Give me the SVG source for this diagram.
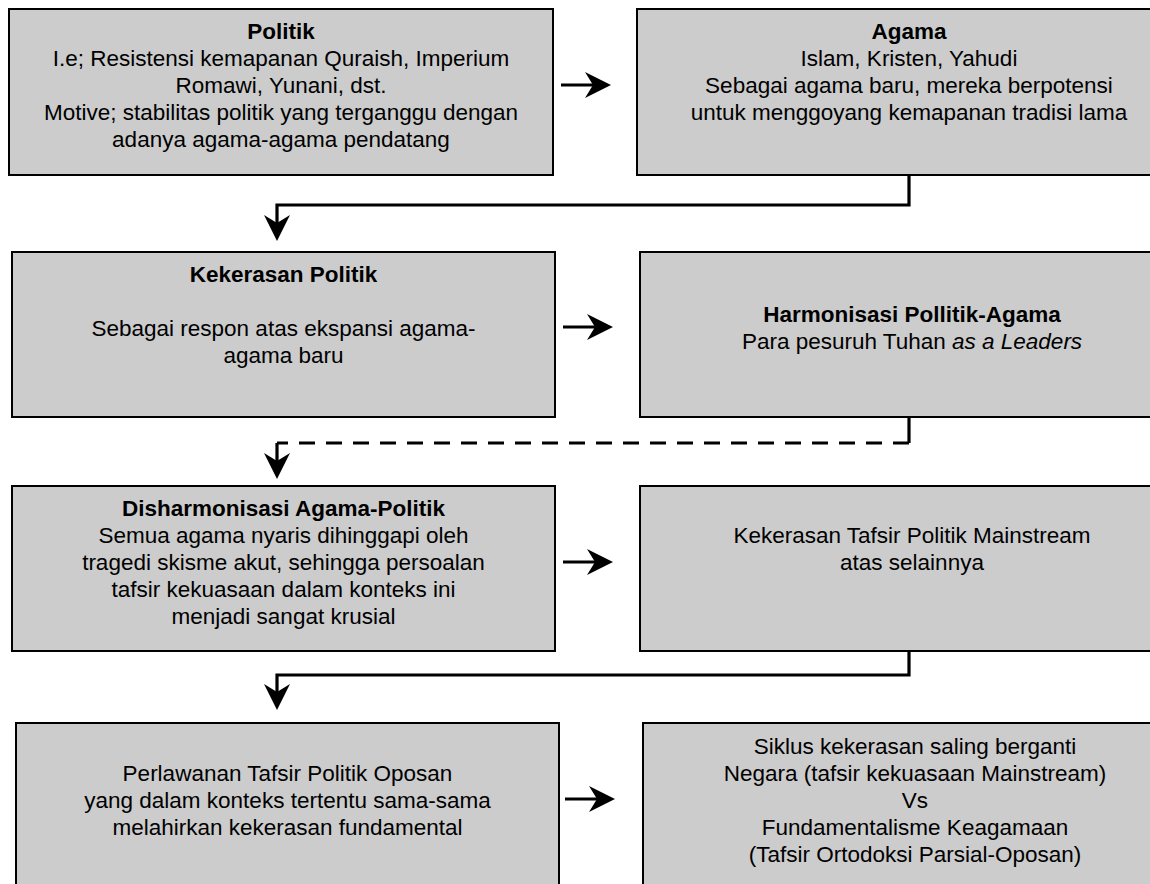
<svg xmlns="http://www.w3.org/2000/svg" width="1150" height="884" viewBox="0 0 1150 884">
<style>
.box{fill:#cccccc;stroke:#000;stroke-width:2}
.t{font-family:"Liberation Sans",Arial,sans-serif;font-size:22.5px;fill:#000;text-anchor:middle}
.b{font-weight:bold}
.i{font-style:italic}
.con{fill:none;stroke:#000;stroke-width:3.2}
.dash{stroke-dasharray:16 11}
</style>
<defs>
<marker id="ah" viewBox="-12 -14 28 28" refX="0" refY="0" markerWidth="28" markerHeight="28" markerUnits="userSpaceOnUse" orient="auto">
<path d="M15,0 L-11,-13 L-3,0 L-11,13 Z" fill="#000"/>
</marker>
</defs>
<rect width="1150" height="884" fill="#fff"/>
<g id="n-politik">
<rect class="box" x="9" y="9" width="544" height="166"/>
<text class="t b" x="281" y="39">Politik</text>
<text class="t" x="281" y="66">I.e; Resistensi kemapanan Quraish, Imperium</text>
<text class="t" x="281" y="93">Romawi, Yunani, dst.</text>
<text class="t" x="281" y="120">Motive; stabilitas politik yang terganggu dengan</text>
<text class="t" x="281" y="147">adanya agama-agama pendatang</text>
</g>
<g id="n-agama">
<rect class="box" x="637" y="9" width="544" height="166"/>
<text class="t b" x="909" y="39">Agama</text>
<text class="t" x="909" y="66">Islam, Kristen, Yahudi</text>
<text class="t" x="909" y="93">Sebagai agama baru, mereka berpotensi</text>
<text class="t" x="909" y="120">untuk menggoyang kemapanan tradisi lama</text>
</g>
<g id="n-kekerasan-politik">
<rect class="box" x="12" y="252" width="543" height="165"/>
<text class="t b" x="283.5" y="282">Kekerasan Politik</text>
<text class="t" x="283.5" y="336">Sebagai respon atas ekspansi agama-</text>
<text class="t" x="283.5" y="363">agama baru</text>
</g>
<g id="n-harmonisasi">
<rect class="box" x="640" y="252" width="544" height="165"/>
<text class="t b" x="912" y="322">Harmonisasi Pollitik-Agama</text>
<text class="t" x="912" y="349">Para pesuruh Tuhan <tspan class="i">as a Leaders</tspan></text>
</g>
<g id="n-disharmonisasi">
<rect class="box" x="12" y="486" width="543" height="165"/>
<text class="t b" x="283.5" y="516">Disharmonisasi Agama-Politik</text>
<text class="t" x="283.5" y="543">Semua agama nyaris dihinggapi oleh</text>
<text class="t" x="283.5" y="570">tragedi skisme akut, sehingga persoalan</text>
<text class="t" x="283.5" y="597">tafsir kekuasaan dalam konteks ini</text>
<text class="t" x="283.5" y="624">menjadi sangat krusial</text>
</g>
<g id="n-kekerasan-tafsir">
<rect class="box" x="640" y="486" width="544" height="165"/>
<text class="t" x="912" y="543">Kekerasan Tafsir Politik Mainstream</text>
<text class="t" x="912" y="570">atas selainnya</text>
</g>
<g id="n-perlawanan">
<rect class="box" x="16" y="723" width="543" height="170"/>
<text class="t" x="287.5" y="781">Perlawanan Tafsir Politik Oposan</text>
<text class="t" x="287.5" y="808">yang dalam konteks tertentu sama-sama</text>
<text class="t" x="287.5" y="835">melahirkan kekerasan fundamental</text>
</g>
<g id="n-siklus">
<rect class="box" x="643" y="723" width="544" height="170"/>
<text class="t" x="915" y="754">Siklus kekerasan saling berganti</text>
<text class="t" x="915" y="781">Negara (tafsir kekuasaan Mainstream)</text>
<text class="t" x="915" y="808">Vs</text>
<text class="t" x="915" y="835">Fundamentalisme Keagamaan</text>
<text class="t" x="915" y="862">(Tafsir Ortodoksi Parsial-Oposan)</text>
</g>
<g id="connectors">
<path class="con" d="M561,85 H596" marker-end="url(#ah)"/>
<path class="con" d="M563,327 H598" marker-end="url(#ah)"/>
<path class="con" d="M563,562 H598" marker-end="url(#ah)"/>
<path class="con" d="M565,799 H600" marker-end="url(#ah)"/>
<path class="con" d="M909,175 V205 H277 V226" marker-end="url(#ah)"/>
<g id="c-dashed">
<path class="con" d="M909,417 V443"/>
<path class="con dash" d="M909,443 H277"/>
<path class="con" d="M277,443 V464" marker-end="url(#ah)"/>
</g>
<path class="con" d="M909,651 V675 H277 V695" marker-end="url(#ah)"/>
</g>
</svg>
